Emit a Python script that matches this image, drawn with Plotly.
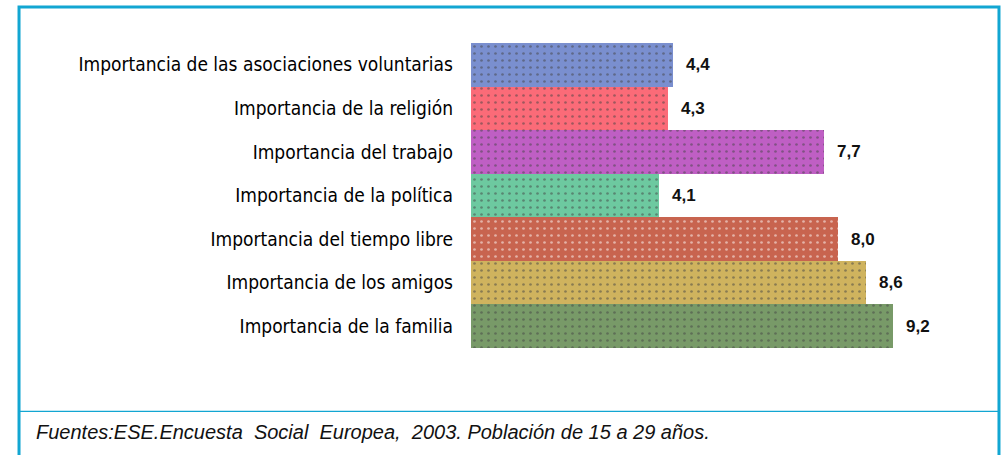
import plotly.graph_objects as go

categories = [
    "Importancia de las asociaciones voluntarias",
    "Importancia de la religión",
    "Importancia del trabajo",
    "Importancia de la política",
    "Importancia del tiempo libre",
    "Importancia de los amigos",
    "Importancia de la familia",
]
values = [4.4, 4.3, 7.7, 4.1, 8.0, 8.6, 9.2]
value_labels = ["4,4", "4,3", "7,7", "4,1", "8,0", "8,6", "9,2"]
bar_colors = ["#7a8fcf", "#fb6b78", "#bf5fc4", "#6dc9a0", "#c8644f", "#cfb35e", "#789a68"]
dot_colors = ["#8fd8c8", "#a08888", "#d8a0e0", "#88d0b0", "#a08860", "#e0d880", "#8888a8"]
footnote = "Fuentes:ESE.Encuesta  Social  Europea,  2003. Población de 15 a 29 años."

fig = go.Figure()
fig.add_trace(go.Bar(
    y=categories, x=values, orientation="h",
    marker=dict(color=bar_colors, line=dict(width=0),
                pattern=dict(shape=".", fgcolor=dot_colors, size=7, solidity=0.12)),
    hoverinfo="skip",
))

for c, v, t in zip(categories, values, value_labels):
    fig.add_annotation(x=v, y=c, text="<b>" + t + "</b>", showarrow=False, xanchor="left", xshift=11,
                       font=dict(family="Liberation Sans, Arial, sans-serif", size=17, color="#111"))

border = "#12a6d2"
fig.add_shape(type="rect", xref="paper", yref="paper", x0=-0.9847, x1=1.1503, y0=-0.40, y1=1.118,
              line=dict(color=border, width=3), fillcolor="rgba(0,0,0,0)", layer="below")
fig.add_shape(type="line", xref="paper", yref="paper", x0=-0.9847, x1=1.1503, y0=-0.208, y1=-0.208,
              line=dict(color=border, width=1.3))
fig.add_annotation(xref="paper", yref="paper", x=-0.952, y=-0.275, xanchor="left", yanchor="middle",
                   text="<i>" + footnote + "</i>", showarrow=False,
                   font=dict(family="Liberation Sans, Arial, sans-serif", size=20, color="#111"))

fig.update_layout(
    width=1003, height=455,
    margin=dict(l=471, r=73, t=43, b=107),
    paper_bgcolor="white", plot_bgcolor="white",
    bargap=0, showlegend=False,
    xaxis=dict(range=[0, 10], visible=False, fixedrange=True),
    yaxis=dict(autorange="reversed", showgrid=False, showline=False, zeroline=False,
               ticks="", ticklabelstandoff=17, fixedrange=True,
               tickfont=dict(family="Liberation Sans Narrow, DejaVu Sans Condensed, Arial Narrow, sans-serif",
                             size=19, color="#000")),
)

fig.write_html("out.html",
               config={"displayModeBar": False, "staticPlot": True},
               post_script="document.body.style.margin='0';document.body.style.overflow='hidden';")
